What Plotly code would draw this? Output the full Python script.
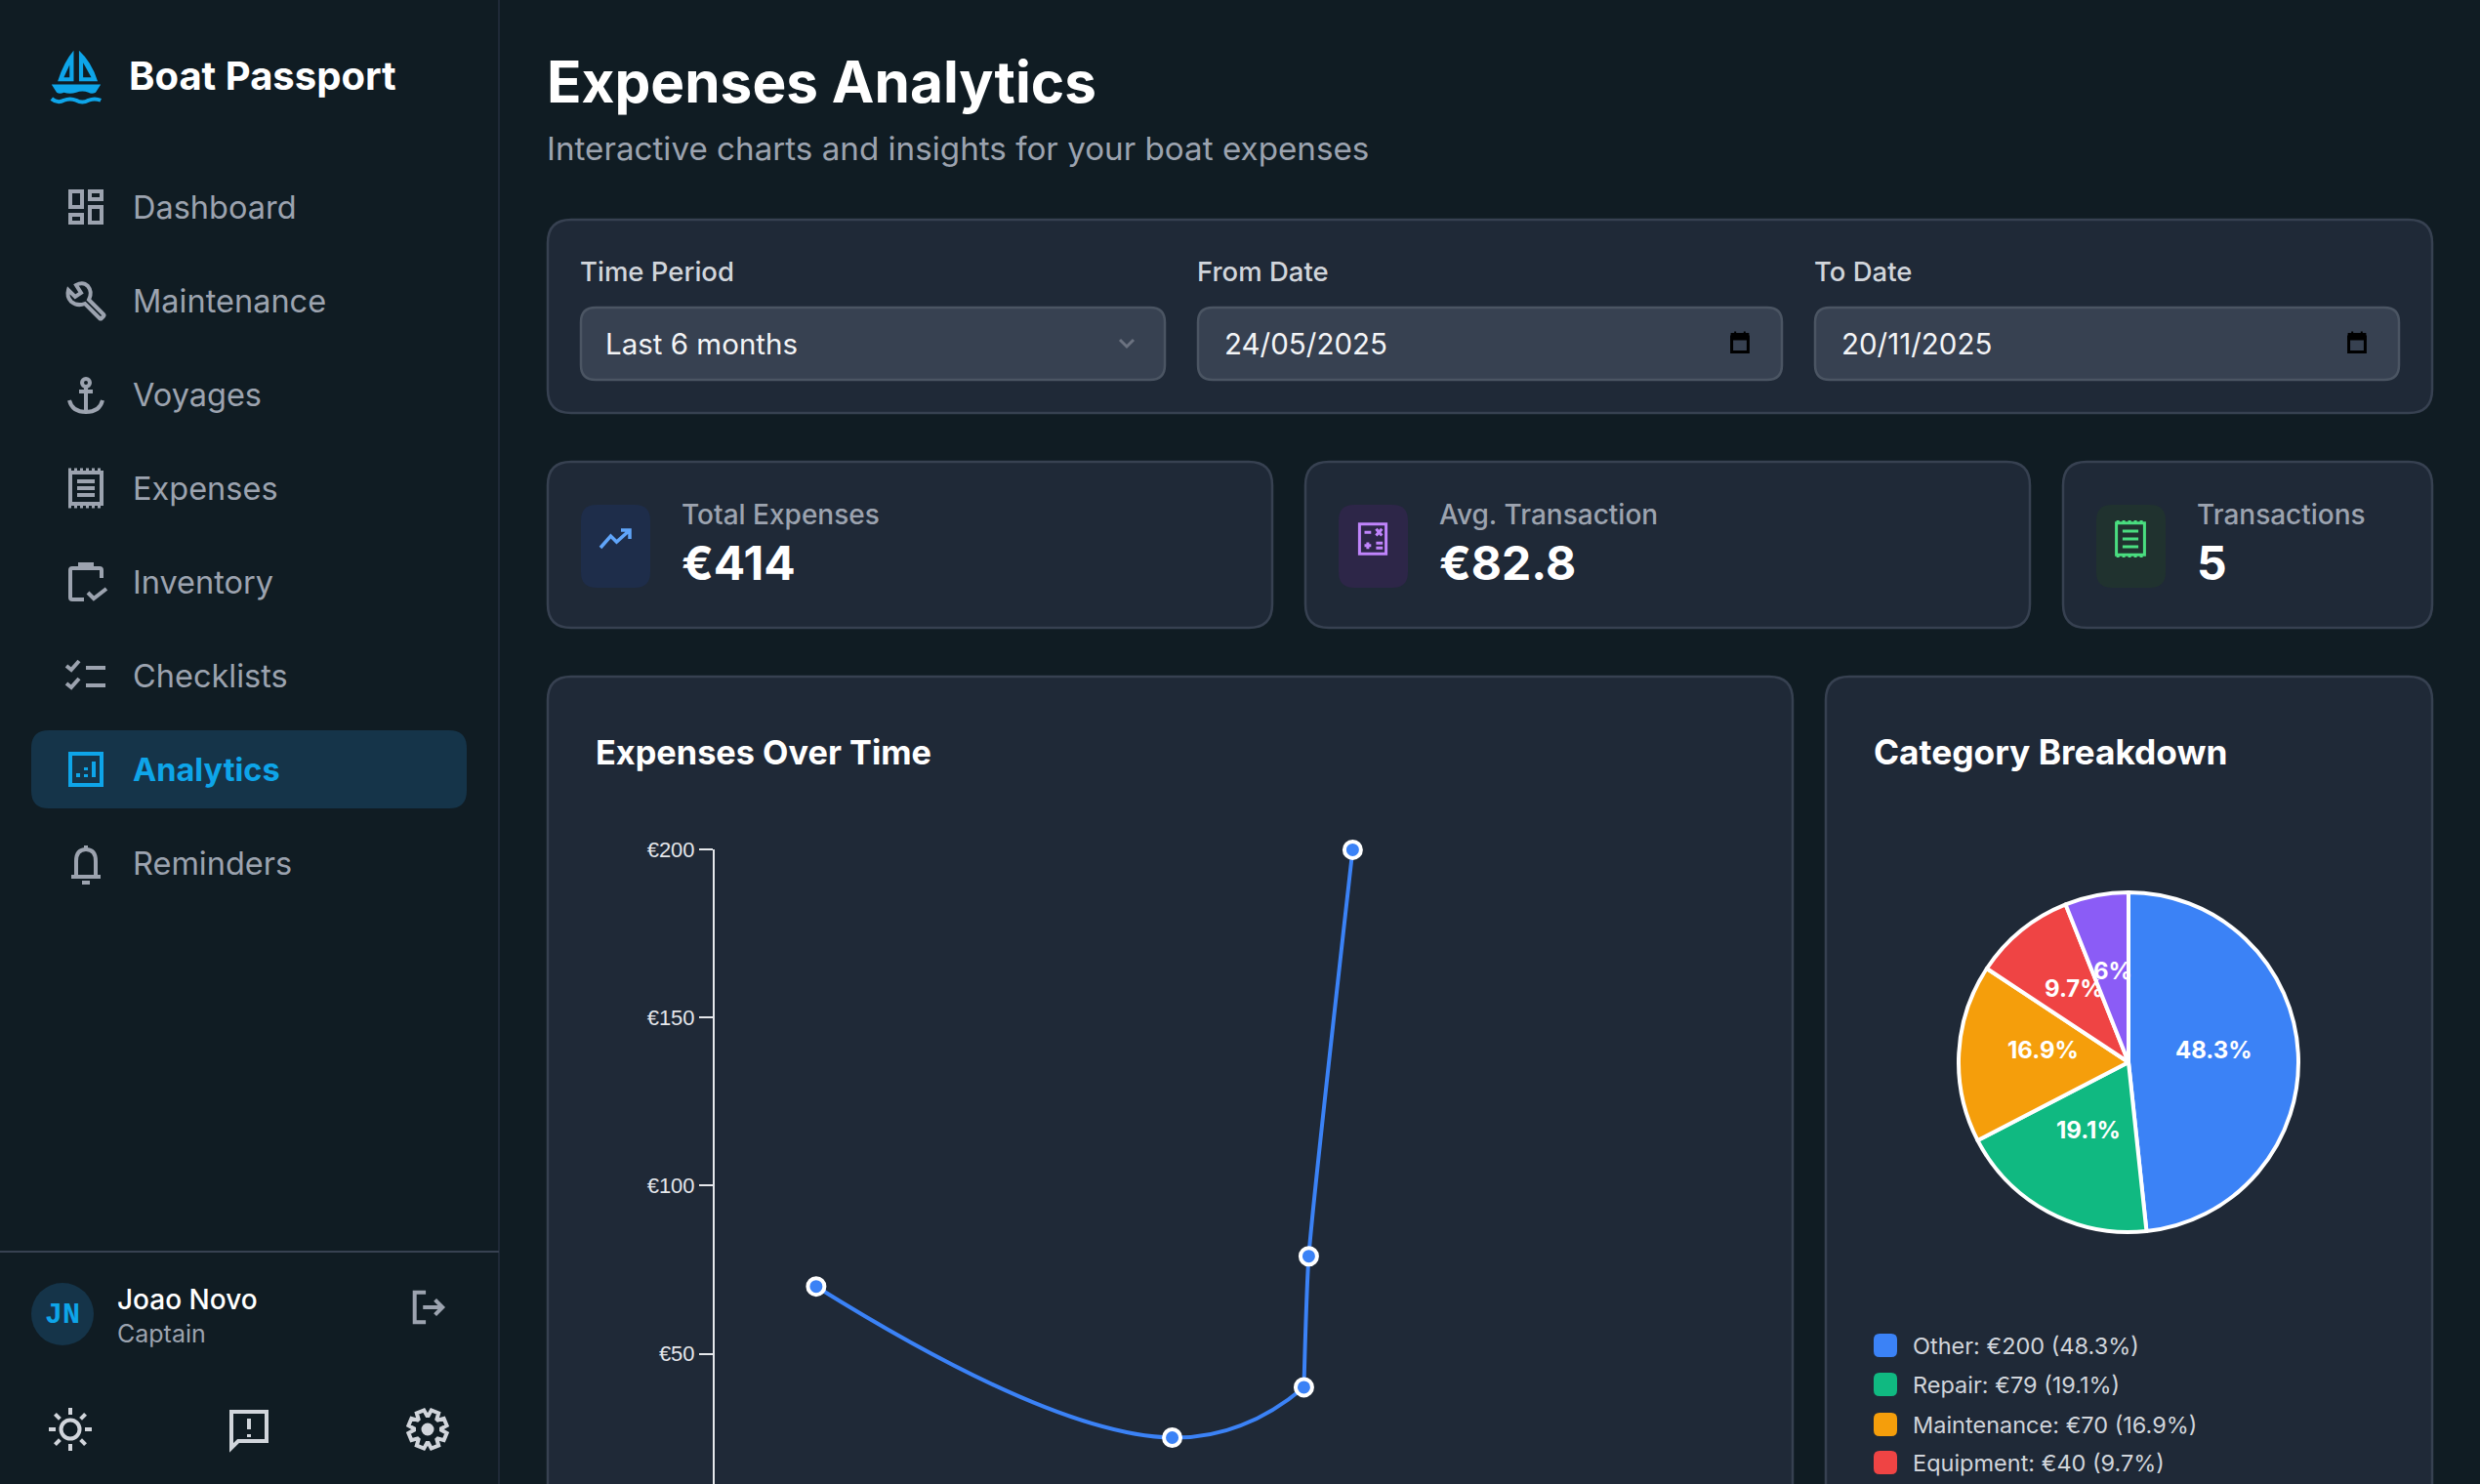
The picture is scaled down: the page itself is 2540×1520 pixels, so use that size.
import math
import re

import plotly.graph_objects as go

# line chart values
expense_dates = ["2025-07-15", "2025-09-26", "2025-10-23", "2025-10-24", "2025-11-02"]
expense_values = [70, 25, 40, 79, 200]
y_ticks = [50, 100, 150, 200]
y_tick_labels = ["€50", "€100", "€150", "€200"]

# pie values, last name is below the visible part of the page
categories = ["Other", "Repair", "Maintenance", "Equipment", "Fuel"]
category_values = [200, 79, 70, 40, 25]
category_colors = ["#3b82f6", "#10b981", "#f59e0b", "#ef4444", "#8b5cf6"]

nav_items = ["Dashboard", "Maintenance", "Voyages", "Expenses", "Inventory", "Checklists", "Analytics", "Reminders"]
kpi_labels = ["Total Expenses", "Avg. Transaction", "Transactions"]
kpi_values = ["€414", "€82.8", "5"]

BG = "#101c23"
CARD = "#1f2937"
BORDER = "#374151"
INPUT = "#374151"
INPUT_BORDER = "#4b5563"
SKY = "#0ea5e9"
GREY = "#9ca3af"
LIGHT = "#d1d5db"
FONT = "Inter"

shapes = []
notes = []


def text(x, y, s, size, color="#ffffff", weight=400, anchor="left", family=FONT):
    if anchor == "left":
        x -= 2  # annotation padding
    notes.append(dict(x=x, y=y, xref="x", yref="y", text=s, showarrow=False, xanchor=anchor, yanchor="middle",
                      font=dict(size=size, color=color, family=family, weight=weight)))


def box(x0, y0, x1, y1, r, fill, line=None, width=0):
    d = (f"M {x0 + r} {y0} L {x1 - r} {y0} Q {x1} {y0} {x1} {y0 + r} L {x1} {y1 - r} Q {x1} {y1} {x1 - r} {y1} "
         f"L {x0 + r} {y1} Q {x0} {y1} {x0} {y1 - r} L {x0} {y0 + r} Q {x0} {y0} {x0 + r} {y0} Z")
    shapes.append(dict(type="path", path=d, xref="x", yref="y", fillcolor=fill, layer="below",
                       line=dict(color=line or fill, width=width)))


def icon(d, cx, cy, color, s=2.0, width=4, fill=None, dash=None):
    # d is drawn on a 24 unit grid centred on cx, cy
    parts = d.split()
    out = []
    i = 0
    while i < len(parts):
        if re.match("[A-Z]", parts[i]):
            out.append(parts[i])
            i += 1
        else:
            out.append(str(round(cx + (float(parts[i]) - 12) * s, 2)))
            out.append(str(round(cy + (float(parts[i + 1]) - 12) * s, 2)))
            i += 2
    shapes.append(dict(type="path", path=" ".join(out), xref="x", yref="y", layer="above",
                       fillcolor=fill or "rgba(0,0,0,0)", line=dict(color=color, width=width, dash=dash or "solid")))


def ring(cx, cy, r, color, width=4, fill="rgba(0,0,0,0)"):
    shapes.append(dict(type="circle", x0=cx - r, x1=cx + r, y0=cy - r, y1=cy + r, xref="x", yref="y", layer="above",
                       fillcolor=fill, line=dict(color=color, width=width)))


# sidebar
shapes.append(dict(type="line", x0=511, x1=511, y0=0, y1=1520, xref="x", yref="y", layer="below",
                   line=dict(color="#1f2937", width=2)))
shapes.append(dict(type="line", x0=0, x1=511, y0=1282, y1=1282, xref="x", yref="y", layer="below",
                   line=dict(color=BORDER, width=2)))

# logo
icon("M 10.8 -0.5 Q 6 5 3 14.5 L 10.8 14.5 Z M 13.4 -0.5 Q 19.5 5 22.5 14.5 L 13.4 14.5 Z", 78, 78, SKY, s=2.1, width=0, fill=SKY)
icon("M 8.8 6.5 L 6 12.6 L 8.8 12.6 Z", 78, 78, BG, s=2.1, width=0, fill=BG)
icon("M 15.4 5.5 L 19.4 12.6 L 15.4 12.6 Z", 78, 78, BG, s=2.1, width=0, fill=BG)
icon("M 0 16 L 24 16 L 21.5 20 Q 19.5 21 18 20 Q 15 18.8 12 20 Q 9 21 6 20 Q 4 21 2.5 20 Z", 78, 78, SKY, s=2.1,
     width=0, fill=SKY)
icon("M 0 23 Q 3 25.5 6 23.8 Q 9 22.5 12 23.8 Q 15 25.5 18 23.8 Q 21 22.5 24 23.8", 78, 78, SKY, s=2.1, width=4)
text(132, 77, "Boat Passport", 40, "#ffffff", 700)

nav_y = [212, 308, 404, 500, 596, 692, 788, 884]
box(32, 748, 478, 828, 18, "#153449")
for name, y in zip(nav_items, nav_y):
    if name == "Analytics":
        text(136, y, name, 32.5, SKY, 700)
    else:
        text(136, y, name, 32.5, GREY)

nav_icon = GREY
icon("M 4 4 L 10 4 L 10 12 L 4 12 Z M 14 4 L 20 4 L 20 8 L 14 8 Z M 14 12 L 20 12 L 20 20 L 14 20 Z "
     "M 4 16 L 10 16 L 10 20 L 4 20 Z", 88, nav_y[0], nav_icon)
icon("M 13.5 11.5 L 21 19 Q 21.5 19.5 21 20 L 20 21 Q 19.5 21.5 19 21 L 11.5 13.5 Q 7.5 15 4.5 12.5 Q 2 10 3 6.5 "
     "L 6.5 10 L 9.5 8 L 7 4 Q 10.5 2 13 4.5 Q 15.5 7.5 13.5 11.5 Z", 88, nav_y[1], nav_icon)
ring(88, nav_y[2] - 12, 4, nav_icon)
icon("M 12 7 L 12 21 M 8.5 10.5 L 15.5 10.5 M 3.5 15 Q 5 21 12 21 Q 19 21 20.5 15", 88, nav_y[2], nav_icon)
icon("M 4 4 L 20 4 L 20 20 L 4 20 Z M 7.5 8.5 L 16.5 8.5 M 7.5 12 L 16.5 12 M 7.5 15.5 L 16.5 15.5", 88, nav_y[3], nav_icon)
icon("M 3 2.5 L 21 2.5 M 3 21.5 L 21 21.5", 88, nav_y[3], nav_icon, width=3, dash="dot")
icon("M 11 21 L 5 21 Q 4 21 4 20 L 4 6 Q 4 5 5 5 L 19 5 Q 20 5 20 6 L 20 10 M 13 17.5 L 16 20.5 L 22.5 15.5",
     88, nav_y[4], nav_icon)
icon("M 9 4.5 L 9 3 L 15 3 L 15 4.5", 88, nav_y[4], nav_icon)
icon("M 2 7 L 4.5 9 L 8.5 4.5 M 2 16 L 4.5 18 L 8.5 13.5 M 12 8 L 22 8 M 12 17 L 22 17", 88, nav_y[5], nav_icon)
icon("M 4 4 L 20 4 L 20 20 L 4 20 Z M 8 14 L 8 16 M 12 11 L 12 12.5 M 12 14.5 L 12 16 M 16 8 L 16 16", 88, nav_y[6], SKY)
icon("M 4.5 19 L 19.5 19 M 7 19 L 7 11 Q 7 5 12 5 Q 17 5 17 11 L 17 19 M 12 3 L 12 5 M 10 22 L 14 22", 88, nav_y[7], nav_icon)

# user block
ring(64, 1346, 32, "#153449", width=0, fill="#153449")
text(64, 1347, "JN", 30, SKY, 700, "center", "Liberation Mono")
text(120, 1331, "Joao Novo", 28, "#ffffff", 500)
text(120, 1366, "Captain", 25, GREY)
icon("M 11 4 L 5 4 L 5 20 L 11 20 M 9.5 12 L 20 12 M 16 8 L 20 12 L 16 16", 438, 1339, GREY, s=1.9, width=4)

ring(72, 1464, 9.5, LIGHT, width=4)
for k in range(8):
    a = k * math.pi / 4
    shapes.append(dict(type="line", x0=72 + 15 * math.cos(a), x1=72 + 22 * math.cos(a), y0=1464 + 15 * math.sin(a),
                       y1=1464 + 22 * math.sin(a), xref="x", yref="y", layer="above", line=dict(color=LIGHT, width=4)))
icon("M 3 3 L 21 3 L 21 18 L 6.5 18 L 3 21.5 Z M 12 6.5 L 12 12 M 12 14.5 L 12 16", 255, 1464, LIGHT, s=2.0, width=4)
gear = []
for k in range(8):
    a = k * math.pi / 4 - math.pi / 8
    for offset, rad in [(-0.17, 14), (-0.1, 20), (0.1, 20), (0.17, 14)]:
        gear.append((438 + rad * math.cos(a + offset * 2), 1464 + rad * math.sin(a + offset * 2)))
shapes.append(dict(type="path", path="M " + " L ".join(f"{px:.1f} {py:.1f}" for px, py in gear) + " Z", xref="x", yref="y",
                   layer="above", fillcolor="rgba(0,0,0,0)", line=dict(color=LIGHT, width=4)))
ring(438, 1464, 6.5, LIGHT, width=0, fill=LIGHT)

# header
text(560, 83, "Expenses Analytics", 58.5, "#ffffff", 700)
text(560, 152, "Interactive charts and insights for your boat expenses", 33.2, GREY)

# filters
box(561, 225, 2491, 423, 24, CARD, BORDER, 2.5)
filter_x = [595, 1227, 1859]
filter_x1 = [1193, 1825, 2457]
filter_labels = ["Time Period", "From Date", "To Date"]
filter_values = ["Last 6 months", "24/05/2025", "20/11/2025"]
for i in range(3):
    text(filter_x[i] - 1, 278, filter_labels[i], 27.5, LIGHT, 500)
    box(filter_x[i], 315, filter_x1[i], 389, 15, INPUT, INPUT_BORDER, 2.5)
    text(filter_x[i] + (25 if i == 0 else 27), 352, filter_values[i], 29.5, "#f3f4f6")
icon("M 8.5 10 L 12 13.5 L 15.5 10", 1154, 352, "#6b7280", s=2.0, width=3)
for cx in (1782, 2414):
    icon("M 5 7 L 19 7 L 19 20 L 5 20 Z", cx, 351, "#000000", s=1.2, width=3)
    icon("M 5 4.5 L 19 4.5 L 19 9 L 5 9 Z M 8 2.5 L 8 4.5 M 16 2.5 L 16 4.5", cx, 351, "#000000", s=1.2, width=2, fill="#000000")

# kpi cards
kpi_x = [(561, 1303), (1337, 2079), (2113, 2491)]
kpi_icon_bg = ["#1e2d4a", "#2d2648", "#20322f"]
for i in range(3):
    box(kpi_x[i][0], 473, kpi_x[i][1], 643, 24, CARD, BORDER, 2.5)
    box(kpi_x[i][0] + 34, 517, kpi_x[i][0] + 105, 602, 16, kpi_icon_bg[i])
    text(kpi_x[i][0] + 137, 527, kpi_labels[i], 28, GREY, 500)
    text(kpi_x[i][0] + 137, 576, kpi_values[i], 48, "#ffffff", 700)
icon("M 2 18 L 9 10 L 13 14 L 22 6 M 16 6 L 22 6 L 22 12", 630, 552, "#60a5fa", s=1.5, width=3.5)
icon("M 4 3 L 20 3 L 20 21 L 4 21 Z M 7 8 L 11 8 M 14 6 L 17.5 10 M 17.5 6 L 14 10 M 7 16 L 11 16 M 9 14 L 9 18 "
     "M 14 14.5 L 18 14.5 M 14 17.5 L 18 17.5", 1406, 552, "#c084fc", s=1.7, width=3)
icon("M 4 3 L 20 3 L 20 21 L 4 21 Z M 7.5 7.5 L 16.5 7.5 M 7.5 12 L 16.5 12 M 7.5 16.5 L 16.5 16.5", 2182, 552, "#4ade80",
     s=1.8, width=3)
icon("M 4 2 L 20 2 M 4 22 L 20 22", 2182, 552, "#4ade80", s=1.8, width=2, dash="dot")

# chart cards run past the bottom of the page
box(561, 693, 1836, 1580, 24, CARD, BORDER, 2.5)
box(1870, 693, 2491, 1580, 24, CARD, BORDER, 2.5)
text(610, 770, "Expenses Over Time", 34.3, "#ffffff", 700)
text(1919, 770, "Category Breakdown", 35.3, "#ffffff", 700)

# pie labels and legend come from the values
total = sum(category_values)
pie_cx, pie_cy, pie_r = 2180, 1088, 174
running = 0
legend_y = [1378, 1418, 1459, 1498]
for i, v in enumerate(category_values):
    pct = f"{round(v / total * 100, 1):g}%"
    mid = (running + v / 2) / total * 2 * math.pi
    running += v
    text(pie_cx + 0.5 * 175 * math.sin(mid), pie_cy - 0.5 * 175 * math.cos(mid) - 8, pct, 24, "#ffffff", 700, "center")
    if i < len(legend_y):
        box(1919, legend_y[i] - 12, 1943, legend_y[i] + 12, 6, category_colors[i])
        text(1959, legend_y[i], f"{categories[i]}: €{v} ({pct})", 23.5, LIGHT)

fig = go.Figure()
# line goes in two pieces so the flat part can bend more than the steep part
for first, last, smooth in [(0, 3, 1.3), (2, 5, 0.5)]:
    fig.add_trace(go.Scatter(x=expense_dates[first:last], y=expense_values[first:last], mode="lines", xaxis="x2", yaxis="y2",
                             line=dict(color="#3b82f6", width=4, shape="spline", smoothing=smooth),
                             cliponaxis=False, showlegend=False))
fig.add_trace(go.Scatter(x=expense_dates, y=expense_values, mode="markers", xaxis="x2", yaxis="y2",
                         marker=dict(size=17, color="#3b82f6", line=dict(color="#ffffff", width=4)),
                         cliponaxis=False, showlegend=False))
fig.add_trace(go.Pie(labels=categories, values=category_values, sort=False, direction="clockwise", rotation=0,
                     marker=dict(colors=category_colors, line=dict(color="#ffffff", width=4)), textinfo="none",
                     showlegend=False, domain=dict(x=[(pie_cx - pie_r) / 2540, (pie_cx + pie_r) / 2540],
                                                   y=[1 - (pie_cy + pie_r) / 1520, 1 - (pie_cy - pie_r) / 1520])))

fig.update_layout(
    width=2540, height=1520, margin=dict(l=0, r=0, t=0, b=0, autoexpand=False), paper_bgcolor=BG,
    plot_bgcolor="rgba(0,0,0,0)", shapes=shapes, annotations=notes, showlegend=False,
    # page canvas in pixels for the cards, icons and texts
    xaxis=dict(range=[0, 2540], visible=False, fixedrange=True, domain=[0, 1]),
    yaxis=dict(range=[1520, 0], visible=False, fixedrange=True, domain=[0, 1]),
    xaxis2=dict(type="date", range=["2025-06-24", "2026-01-22"], domain=[731 / 2540, 1790 / 2540], visible=False,
                anchor="y2"),
    yaxis2=dict(range=[11.2, 200], domain=[0, 1 - 870.4 / 1520], anchor="free", position=731 / 2540, tickvals=y_ticks,
                ticktext=y_tick_labels, showline=True, linecolor="#e5e7eb", linewidth=2, ticks="outside", ticklen=14,
                tickwidth=2, tickcolor="#e5e7eb", showgrid=False, zeroline=False,
                tickfont=dict(family="Liberation Sans", size=22, color="#e5e7eb")),
)

# page margin would leave a white strip around the figure
fig.write_html("out.html", config={"displayModeBar": False}, post_script="document.body.style.margin = '0';")
